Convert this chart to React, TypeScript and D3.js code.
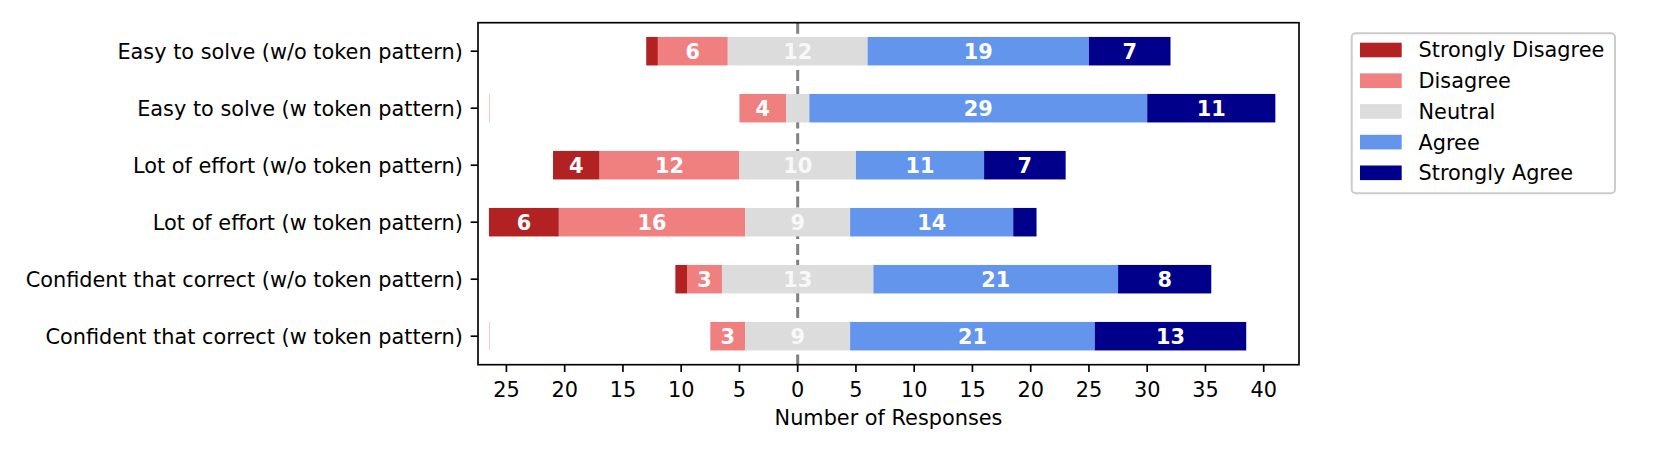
import React from "react";
import * as d3 from "d3";

const questions = [
  "Easy to solve (w/o token pattern)",
  "Easy to solve (w token pattern)",
  "Lot of effort (w/o token pattern)",
  "Lot of effort (w token pattern)",
  "Confident that correct (w/o token pattern)",
  "Confident that correct (w token pattern)",
];
const categories = ["Strongly Disagree", "Disagree", "Neutral", "Agree", "Strongly Agree"];
const colors = ["#b22222", "#f08080", "#dcdcdc", "#6495ed", "#00008b"];
const stronglyDisagree = [1, 0, 4, 6, 1, 0];
const disagree = [6, 4, 12, 16, 3, 3];
const neutral = [12, 2, 10, 9, 13, 9];
const agree = [19, 29, 11, 14, 21, 21];
const stronglyAgree = [7, 11, 7, 2, 8, 13];
const xTicks = [-25, -20, -15, -10, -5, 0, 5, 10, 15, 20, 25, 30, 35, 40];
const xDomain = [-27.44, 43.03];

const FONT = "DejaVu Sans, sans-serif";
const FS = 20.83;

export default function App() {
  const W = 1661, H = 453;
  const left = 478, right = 1299, top = 22.7, bottom = 364.7;
  const x = d3.scaleLinear().domain(xDomain).range([left, right]);
  const y = d3.scaleBand<string>().domain(questions).range([top, bottom]).paddingInner(0.5).paddingOuter(0.25);
  const series = [stronglyDisagree, disagree, neutral, agree, stronglyAgree];
  const middles = questions.map((_, i) => stronglyDisagree[i] + disagree[i] + neutral[i] / 2);
  const longest = d3.max(middles) as number;
  const bw = y.bandwidth();
  const tickLen = 7.3;

  const legendX = 1351.7, legendY = 33.3, legendW = 263.3, legendH = 160;

  return (
    <svg width={W} height={H} style={{ position: "absolute", left: 0, top: 0, background: "#fff" }} fontFamily={FONT}>
      {/* zero dashed line (behind bars) */}
      <line x1={x(0)} x2={x(0)} y1={top} y2={bottom} stroke="#808080" strokeWidth={3} strokeDasharray="11,4.8" />
      {questions.map((q, i) => {
        let cum = -middles[i];
        const y0 = y(q) as number;
        const segs = series.map((s, k) => {
          const v = s[i];
          const x0 = cum;
          cum += v;
          return { k, v, x0, x1: cum };
        });
        return (
          <g key={q}>
            {stronglyDisagree[i] === 0 && (
              <line x1={x(-longest) + 0.5} x2={x(-longest) + 0.5} y1={y0} y2={y0 + bw} stroke="#f3c6cc" strokeWidth={1} />
            )}
            {segs.map((s) =>
              s.v > 0 ? (
                <rect key={s.k} x={x(s.x0)} y={y0} width={x(s.x1) - x(s.x0)} height={bw} fill={colors[s.k]} />
              ) : null
            )}
            {segs.map((s) =>
              s.v >= 3 ? (
                <text key={"t" + s.k} x={(x(s.x0) + x(s.x1)) / 2} y={y0 + bw / 2} dy="0.36em" textAnchor="middle"
                  fontSize={FS} fontWeight="bold" fill={s.k === 2 ? "#f8f8f8" : "#ffffff"}>
                  {s.v}
                </text>
              ) : null
            )}
          </g>
        );
      })}
      {/* axes frame */}
      <rect x={left} y={top} width={right - left} height={bottom - top} fill="none" stroke="#000" strokeWidth={1.67} />
      {/* y ticks */}
      {questions.map((q) => {
        const cy = (y(q) as number) + bw / 2;
        return (
          <g key={"y" + q}>
            <line x1={left - tickLen} x2={left} y1={cy} y2={cy} stroke="#000" strokeWidth={1.67} />
            <text x={left - 2 * tickLen - 0.5} y={cy} dy="0.36em" textAnchor="end" fontSize={FS} fill="#000">{q}</text>
          </g>
        );
      })}
      {/* x ticks */}
      {xTicks.map((t) => (
        <g key={"x" + t}>
          <line x1={x(t)} x2={x(t)} y1={bottom} y2={bottom + tickLen} stroke="#000" strokeWidth={1.67} />
          <text x={x(t)} y={396.5} textAnchor="middle" fontSize={FS} fill="#000">{Math.abs(t)}</text>
        </g>
      ))}
      <text x={(left + right) / 2} y={424.5} textAnchor="middle" fontSize={FS} fill="#000">Number of Responses</text>
      {/* legend */}
      <rect x={legendX} y={legendY} width={legendW} height={legendH} rx={4} fill="#fff" fillOpacity={0.8} stroke="#cccccc" strokeWidth={2} />
      {categories.map((c, k) => {
        const cy = 50 + k * 30.7;
        return (
          <g key={c}>
            <rect x={1360} y={cy - 7.3} width={41.7} height={14.6} fill={colors[k]} />
            <text x={1418.5} y={cy} dy="0.36em" fontSize={FS} fill="#000">{c}</text>
          </g>
        );
      })}
    </svg>
  );
}
